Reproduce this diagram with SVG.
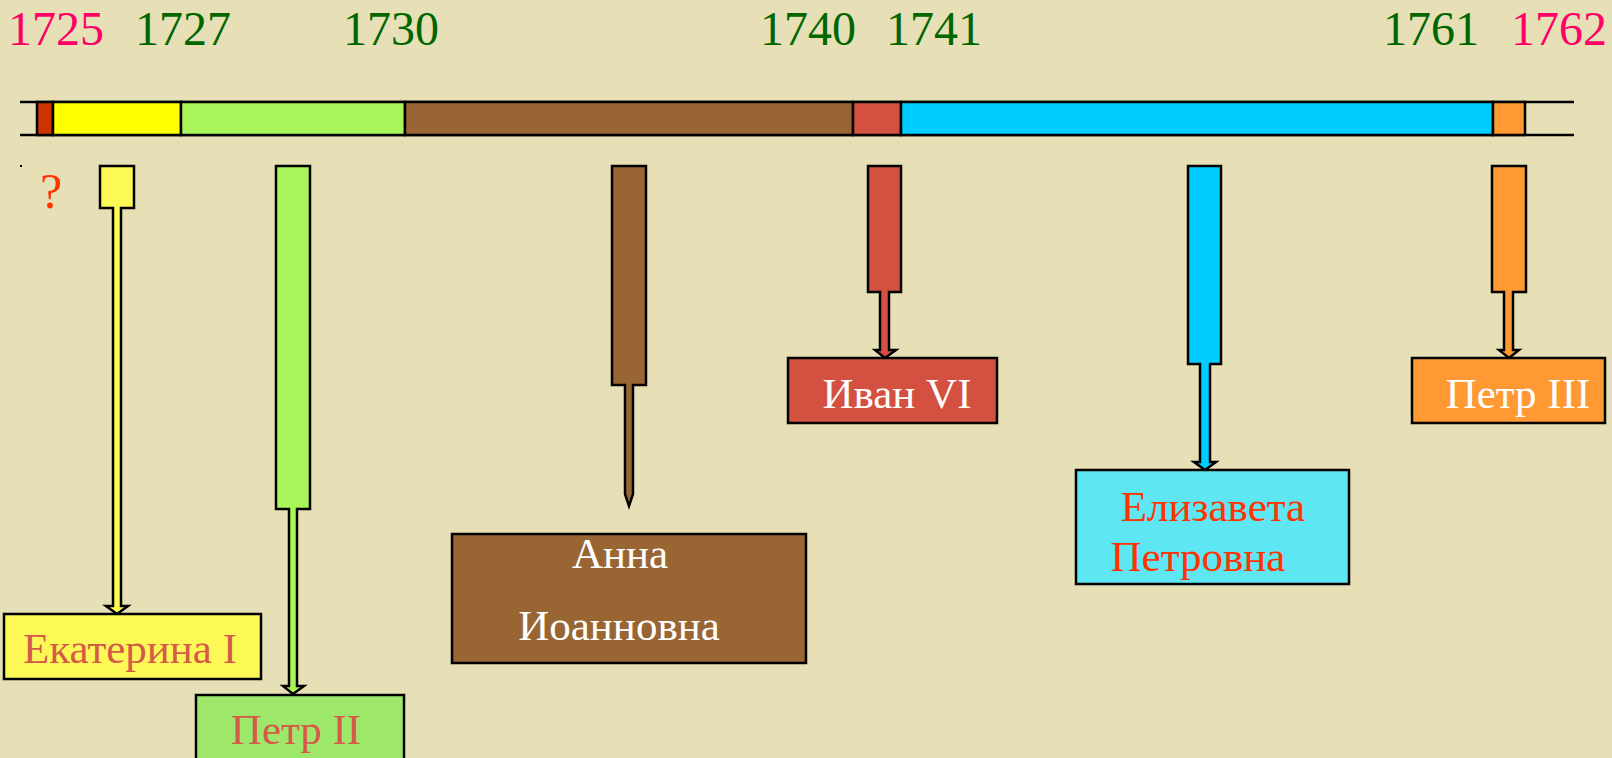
<svg xmlns="http://www.w3.org/2000/svg" width="1612" height="758" viewBox="0 0 1612 758">
<style>
.yr{font-family:"Liberation Serif","Times New Roman",serif;font-size:48px;text-anchor:middle}
.pink{fill:#FF0066}
.grn{fill:#006600}
.lbl{font-family:"Liberation Serif","Times New Roman",serif;font-size:43px;text-anchor:middle}
.sh{stroke:#000;stroke-width:2.5;stroke-linejoin:miter}
</style>
<rect x="0" y="0" width="1612" height="758" fill="#E7E0B7"/>
<g id="years">
<text class="yr pink" x="56" y="45">1725</text>
<text class="yr grn" x="183" y="45">1727</text>
<text class="yr grn" x="391" y="45">1730</text>
<text class="yr grn" x="808" y="45">1740</text>
<text class="yr grn" x="934" y="45">1741</text>
<text class="yr grn" x="1431" y="45">1761</text>
<text class="yr pink" x="1559" y="45">1762</text>
</g>
<g id="timeline">
<line x1="20" y1="102" x2="1574" y2="102" stroke="#000" stroke-width="2.5"/>
<line x1="20" y1="135" x2="1574" y2="135" stroke="#000" stroke-width="2.5"/>
<rect class="sh" x="37" y="102" width="16" height="33" fill="#CC3300"/>
<rect class="sh" x="53" y="102" width="128" height="33" fill="#FFFF00"/>
<rect class="sh" x="181" y="102" width="224" height="33" fill="#AAF55A"/>
<rect class="sh" x="405" y="102" width="448" height="33" fill="#996633"/>
<rect class="sh" x="853" y="102" width="48" height="33" fill="#D45040"/>
<rect class="sh" x="901" y="102" width="592" height="33" fill="#00CCFF"/>
<rect class="sh" x="1493" y="102" width="32" height="33" fill="#FF9933"/>
</g>
<rect x="20" y="165" width="2" height="2" fill="#000"/>
<text x="51" y="208" font-family="Liberation Serif, serif" font-size="50" fill="#FF3300" text-anchor="middle">?</text>
<g id="connectors">
<path class="sh" fill="#FCF855" d="M100,166 H134 V208 H121 V606 H128 L117,614 L106,606 H113 V208 H100 Z"/>
<path class="sh" fill="#AAF55A" d="M276,166 H310 V509 H297 V686 H304 L293,694 L283,686 H289 V509 H276 Z"/>
<path class="sh" fill="#996633" d="M612,166 H646 V385 H633 V494 L629,506 L625,494 V385 H612 Z"/>
<path class="sh" fill="#D45040" d="M868,166 H901 V292 H889 V350 H896 L885,358 L875,350 H880 V292 H868 Z"/>
<path class="sh" fill="#00CCFF" d="M1188,166 H1221 V364 H1210 V462 H1216 L1205,470 L1194,462 H1200 V364 H1188 Z"/>
<path class="sh" fill="#FF9933" d="M1492,166 H1526 V292 H1513 V350 H1519 L1509,358 L1499,350 H1504 V292 H1492 Z"/>
</g>
<g id="ekaterina">
<rect class="sh" x="4" y="614" width="257" height="65" fill="#FCF855"/>
<text class="lbl" x="130" y="663" fill="#D65A48">Екатерина I</text>
</g>
<g id="petr2">
<rect class="sh" x="196" y="695" width="208" height="70" fill="#9DE86A"/>
<text class="lbl" x="296" y="744" fill="#D65A48">Петр II</text>
</g>
<g id="anna">
<rect class="sh" x="452" y="534" width="354" height="129" fill="#996633"/>
<text class="lbl" x="620" y="568" fill="#FFFFFF">Анна</text>
<text class="lbl" x="619" y="640" fill="#FFFFFF">Иоанновна</text>
</g>
<g id="ivan6">
<rect class="sh" x="788" y="358" width="209" height="65" fill="#D45040"/>
<text class="lbl" x="897" y="408" fill="#FFFFFF">Иван VI</text>
</g>
<g id="elizaveta">
<rect class="sh" x="1076" y="470" width="273" height="114" fill="#5EE6F3"/>
<text class="lbl" x="1213" y="521" fill="#FF3300">Елизавета</text>
<text class="lbl" x="1198" y="571" fill="#FF3300">Петровна</text>
</g>
<g id="petr3">
<rect class="sh" x="1412" y="358" width="193" height="65" fill="#FF9933"/>
<text class="lbl" x="1518" y="408" fill="#FFFFFF">Петр III</text>
</g>
</svg>
